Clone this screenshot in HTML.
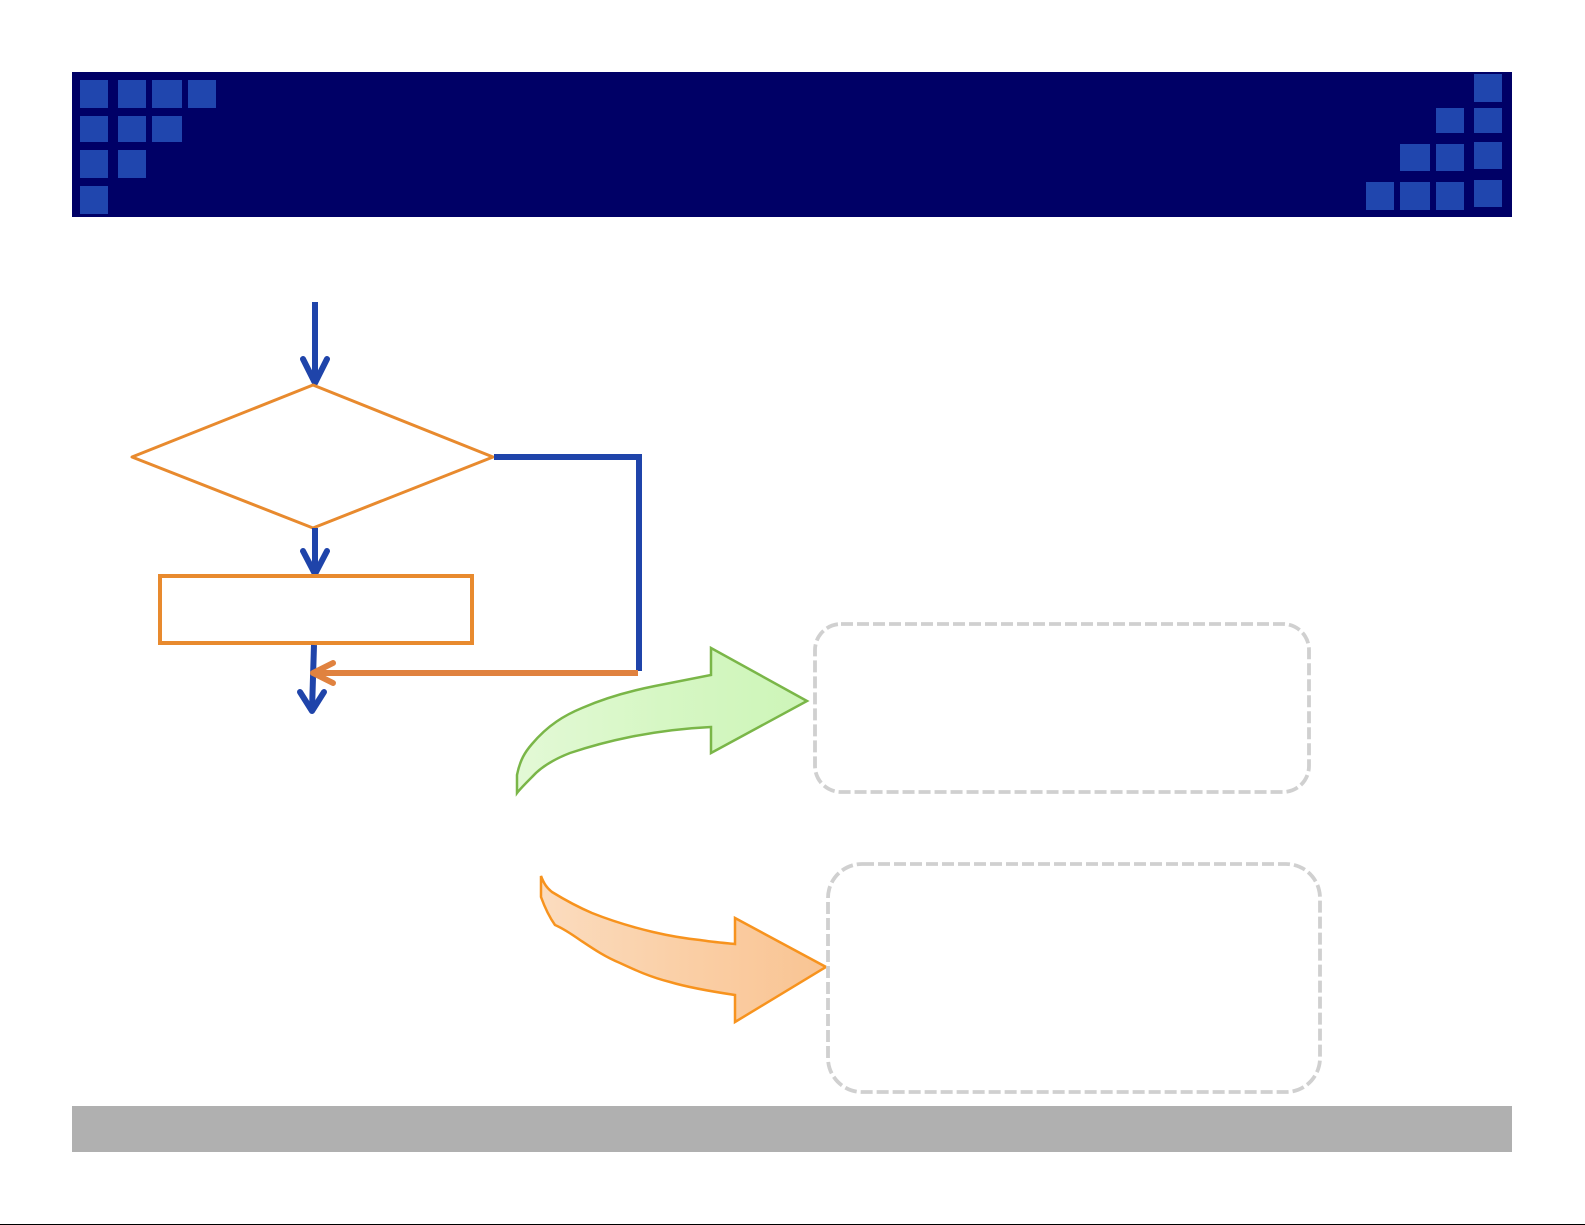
<!DOCTYPE html>
<html>
<head>
<meta charset="utf-8">
<style>
  html,body{margin:0;padding:0;background:#fff;}
  body{width:1585px;height:1225px;overflow:hidden;font-family:"Liberation Sans",sans-serif;}
  svg{display:block;}
</style>
</head>
<body>
<svg width="1585" height="1225" viewBox="0 0 1585 1225" xmlns="http://www.w3.org/2000/svg">
  <defs>
    <linearGradient id="gg" x1="0" y1="0" x2="1" y2="0">
      <stop offset="0" stop-color="#e3f9d6"/>
      <stop offset="0.5" stop-color="#d6f7c4"/>
      <stop offset="1" stop-color="#cdf5b8"/>
    </linearGradient>
    <linearGradient id="og" x1="0" y1="0" x2="1" y2="0">
      <stop offset="0" stop-color="#fbdcbf"/>
      <stop offset="0.5" stop-color="#facfa6"/>
      <stop offset="1" stop-color="#f9c493"/>
    </linearGradient>
  </defs>

  <!-- Header bar -->
  <rect x="72" y="72" width="1440" height="145" fill="#000066"/>
  <g fill="#2046ae">
    <rect x="80" y="80" width="28" height="28"/>
    <rect x="118" y="80" width="28" height="28"/>
    <rect x="152" y="80" width="30" height="28"/>
    <rect x="188" y="80" width="28" height="28"/>
    <rect x="80" y="116" width="28" height="26"/>
    <rect x="118" y="116" width="28" height="26"/>
    <rect x="152" y="116" width="30" height="26"/>
    <rect x="80" y="150" width="28" height="28"/>
    <rect x="118" y="150" width="28" height="28"/>
    <rect x="80" y="186" width="28" height="28"/>
    <rect x="1474" y="74" width="28" height="28"/>
    <rect x="1436" y="108" width="28" height="25"/>
    <rect x="1474" y="108" width="28" height="25"/>
    <rect x="1400" y="144" width="30" height="27"/>
    <rect x="1436" y="144" width="28" height="27"/>
    <rect x="1474" y="142" width="28" height="27"/>
    <rect x="1366" y="182" width="28" height="28"/>
    <rect x="1400" y="182" width="30" height="28"/>
    <rect x="1436" y="182" width="28" height="28"/>
    <rect x="1474" y="180" width="28" height="27"/>
  </g>

  <!-- Flowchart -->
  <g fill="none" stroke-linecap="round" stroke-linejoin="round">
    <line x1="315" y1="302" x2="315" y2="383" stroke="#1f44aa" stroke-width="6" stroke-linecap="butt"/>
    <polyline points="303,359 315,383 327,359" stroke="#1f44aa" stroke-width="6"/>
    <polygon points="313,385 493,457 313,528 132,457" stroke="#e88a2e" stroke-width="3"/>
    <polyline points="494,457 639,457 639,671" stroke="#1f44aa" stroke-width="6" stroke-linecap="butt" stroke-linejoin="miter"/>
    <line x1="315" y1="528" x2="315" y2="573" stroke="#1f44aa" stroke-width="6" stroke-linecap="butt"/>
    <polyline points="303,551 315,574 327,551" stroke="#1f44aa" stroke-width="6"/>
    <rect x="160" y="576" width="312" height="67" stroke="#e88a2e" stroke-width="4" stroke-linejoin="miter"/>
    <line x1="314" y1="645" x2="312" y2="710" stroke="#1f44aa" stroke-width="6" stroke-linecap="butt"/>
    <polyline points="300,692 312,711 324,692" stroke="#1f44aa" stroke-width="6"/>
    <line x1="638" y1="673" x2="315" y2="673" stroke="#e0823f" stroke-width="6" stroke-linecap="butt"/>
    <polyline points="333,663 313,673 333,683" stroke="#e0823f" stroke-width="6"/>
  </g>

  <!-- Green curved arrow -->
  <path d="M517,793 L517,775 C520,760 525,752 532,744 C548,725 565,715 582,708 C605,698 630,691 655,686 C675,682 695,678 711,675 L711,648 L807,701 L711,753 L711,727 C690,728 660,731 630,737 C605,742 585,748 570,753 C552,760 540,768 532,777 C525,784 520,789 517,793 Z"
        fill="url(#gg)" stroke="#7ab648" stroke-width="2.5" stroke-linejoin="miter"/>

  <!-- Orange curved arrow -->
  <path d="M541,876 C544,884 547,888 552,892 C565,900 578,907 592,913 C612,921 632,927 653,932 C670,936 690,939 700,940 C712,942 725,943 735,944 L735,918 L826,967 L735,1022 L735,995 C715,992 690,988 670,982 C650,977 635,970 620,963 C605,957 592,948 580,940 C570,933 562,928 555,925 C550,918 545,908 541,897 Z"
        fill="url(#og)" stroke="#f7931e" stroke-width="2.5" stroke-linejoin="miter"/>

  <!-- Dashed boxes -->
  <rect x="815" y="624" width="494" height="168" rx="26" ry="26" fill="none" stroke="#d0d0d0" stroke-width="3.8" stroke-dasharray="12,4"/>
  <rect x="828" y="864" width="492" height="228" rx="34" ry="34" fill="none" stroke="#d0d0d0" stroke-width="3.8" stroke-dasharray="12,4"/>

  <!-- Footer bar -->
  <rect x="72" y="1106" width="1440" height="46" fill="#b0b0b0"/>
  <rect x="0" y="1224" width="1585" height="1" fill="#000"/>
</svg>
</body>
</html>
